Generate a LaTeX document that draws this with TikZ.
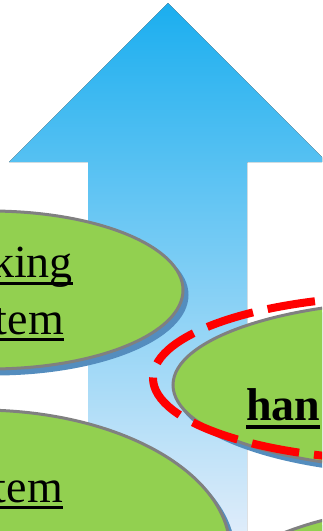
\documentclass[tikz,border=0pt]{standalone}
\usepackage{fontspec}
\setmainfont{Liberation Serif}
\definecolor{ellgreen}{RGB}{146,208,80}
\definecolor{ellgray}{RGB}{128,128,128}
\definecolor{shadowblue}{RGB}{84,141,190}
\definecolor{arrowtop}{RGB}{27,174,239}
\definecolor{arrowmid}{RGB}{126,197,241}
\definecolor{arrowbot}{RGB}{222,236,250}
\newcommand\ulword[3][3pt]{\setbox0\hbox{#3}\rlap{\rule[#2]{\wd0}{#1}}\box0}
\begin{document}
\begin{tikzpicture}[x=1pt,y=-1pt,
  greenell/.style={fill=ellgreen, draw=ellgray, line width=3pt},
  shadowell/.style={fill=shadowblue},
  lbl/.style={inner sep=0pt, font=\fontsize{46}{56}\selectfont},
  bold lbl/.style={inner sep=0pt, font=\fontsize{46}{56}\selectfont\bfseries},
  reddash/.style={draw=red, line width=8pt, dash pattern=on 48pt off 15pt, dash phase=12pt}
]
\useasboundingbox (0,0) rectangle (322,531);
\begin{scope}
\clip (0,0) rectangle (322,531);
% big arrow
\fill[top color=arrowtop, middle color=arrowmid, bottom color=arrowbot]
  (168,3) -- (327,162) -- (247,162) -- (247,531) -- (88,531) -- (88,162) -- (9,162) -- cycle;
% top-left ellipse
\fill[shadowell] (-6,295) ellipse [x radius=194.5pt, y radius=80.5pt];
\draw[greenell] (-10,290) ellipse [x radius=193pt, y radius=79pt];
% bottom-left ellipse
\fill[shadowell] (-16,555) ellipse [x radius=251.5pt, y radius=141.5pt];
\draw[greenell] (-20,550) ellipse [x radius=250pt, y radius=140pt];
% right ellipse
\fill[shadowell] (427,390) ellipse [x radius=251.5pt, y radius=85.5pt];
\draw[greenell] (423,385) ellipse [x radius=250pt, y radius=84pt];
% bottom-right ellipse
\fill[shadowell] (454,620) ellipse [x radius=251.5pt, y radius=111.5pt];
\draw[greenell] (450,615) ellipse [x radius=250pt, y radius=110pt];
% red dashed highlight
\draw[reddash] (403,378) ellipse [x radius=250pt, y radius=82pt];
% texts
\node[lbl, anchor=base east] (t1) at (73,277) {\ulword{-7.5pt}{king}};
\node[lbl, anchor=base east] (t2) at (64,334) {\ulword{-7pt}{tem}};
\node[lbl, anchor=base east] (t3) at (63,502) {\ulword{-7pt}{tem}};
\node[bold lbl, anchor=base west] (t4) at (246,420) {\ulword[4pt]{-9pt}{han}};
\end{scope}
\end{tikzpicture}
\end{document}
